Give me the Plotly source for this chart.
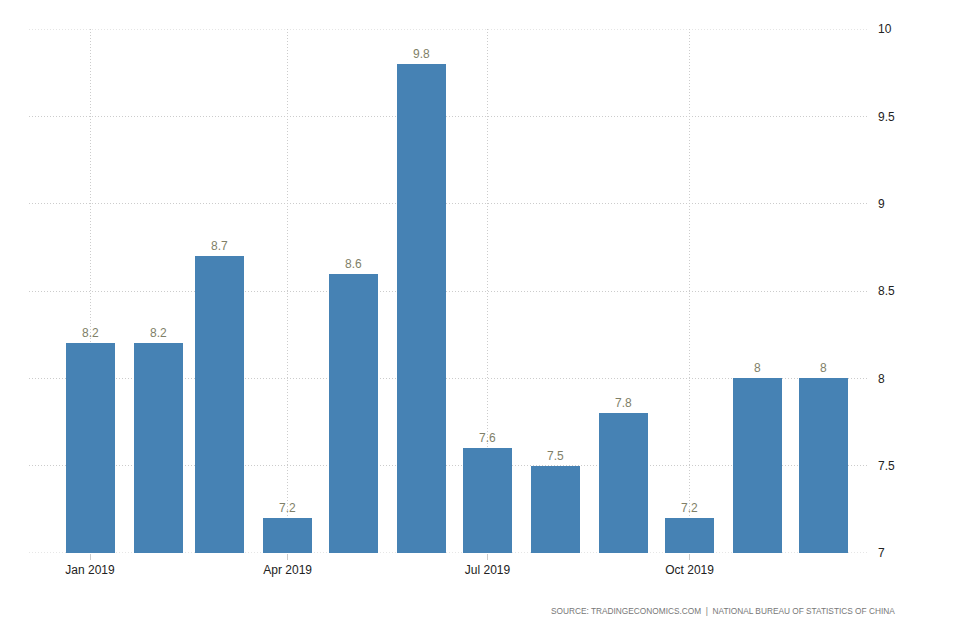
import plotly.graph_objects as go

months = ["2019-01-01", "2019-02-01", "2019-03-01", "2019-04-01", "2019-05-01", "2019-06-01",
          "2019-07-01", "2019-08-01", "2019-09-01", "2019-10-01", "2019-11-01", "2019-12-01"]
values = [8.2, 8.2, 8.7, 7.2, 8.6, 9.8, 7.6, 7.5, 7.8, 7.2, 8, 8]
value_labels = ["8.2", "8.2", "8.7", "7.2", "8.6", "9.8", "7.6", "7.5", "7.8", "7.2", "8", "8"]
tick_vals = ["2019-01-01", "2019-04-01", "2019-07-01", "2019-10-01"]
tick_text = ["Jan 2019", "Apr 2019", "Jul 2019", "Oct 2019"]
y_ticks = [7, 7.5, 8, 8.5, 9, 9.5, 10]
y_tick_text = ["7", "7.5", "8", "8.5", "9", "9.5", "10"]

DAY_MS = 86400000
BASE = 7

fig = go.Figure()
fig.add_trace(go.Bar(
    x=months, y=[v - BASE for v in values], base=BASE,
    width=[22.3 * DAY_MS] * len(months),
    marker=dict(color="#4682B4", line=dict(width=0)),
    text=value_labels, textposition="outside",
    textfont=dict(family="Arial, Liberation Sans, sans-serif", size=12, color="#7f7f68"),
    cliponaxis=False,
))

grid = dict(showgrid=True, gridcolor="#cccccc", griddash="1px,2px", gridwidth=1)

fig.update_layout(
    width=954, height=636,
    paper_bgcolor="white", plot_bgcolor="white",
    margin=dict(l=21, r=95, t=21, b=91, autoexpand=False),
    showlegend=False,
    xaxis=dict(
        type="date",
        range=["2018-12-04 05:00", "2019-12-20 19:00"],
        tickvals=tick_vals, ticktext=tick_text,
        ticks="outside", ticklen=6, tickcolor="#cccccc",
        tickfont=dict(family="Arial, Liberation Sans, sans-serif", size=12, color="#222"),
        showline=False, zeroline=False,
        **grid,
    ),
    yaxis=dict(
        side="right",
        range=[7, 10],
        tickvals=y_ticks, ticktext=y_tick_text,
        tickfont=dict(family="Arial, Liberation Sans, sans-serif", size=12, color="#222"),
        ticks="", ticklabelstandoff=10,
        zeroline=False, showline=False,
        **grid,
    ),
    bargap=0,
)

for yv in (y_ticks[0], y_ticks[-1]):
    fig.add_shape(type="line", xref="paper", x0=0, x1=1, yref="y", y0=yv, y1=yv,
                  line=dict(color="#cccccc", width=1, dash="1px,2px"), layer="below")

fig.add_annotation(
    text="SOURCE: TRADINGECONOMICS.COM  |  NATIONAL BUREAU OF STATISTICS OF CHINA",
    xref="paper", yref="paper", x=(897 - 29) / (867 - 29), y=-(611 - 553) / (553 - 29),
    xanchor="right", yanchor="middle", showarrow=False,
    font=dict(family="Arial, Liberation Sans, sans-serif", size=8.3, color="#777"),
)

fig.write_html("out.html")
